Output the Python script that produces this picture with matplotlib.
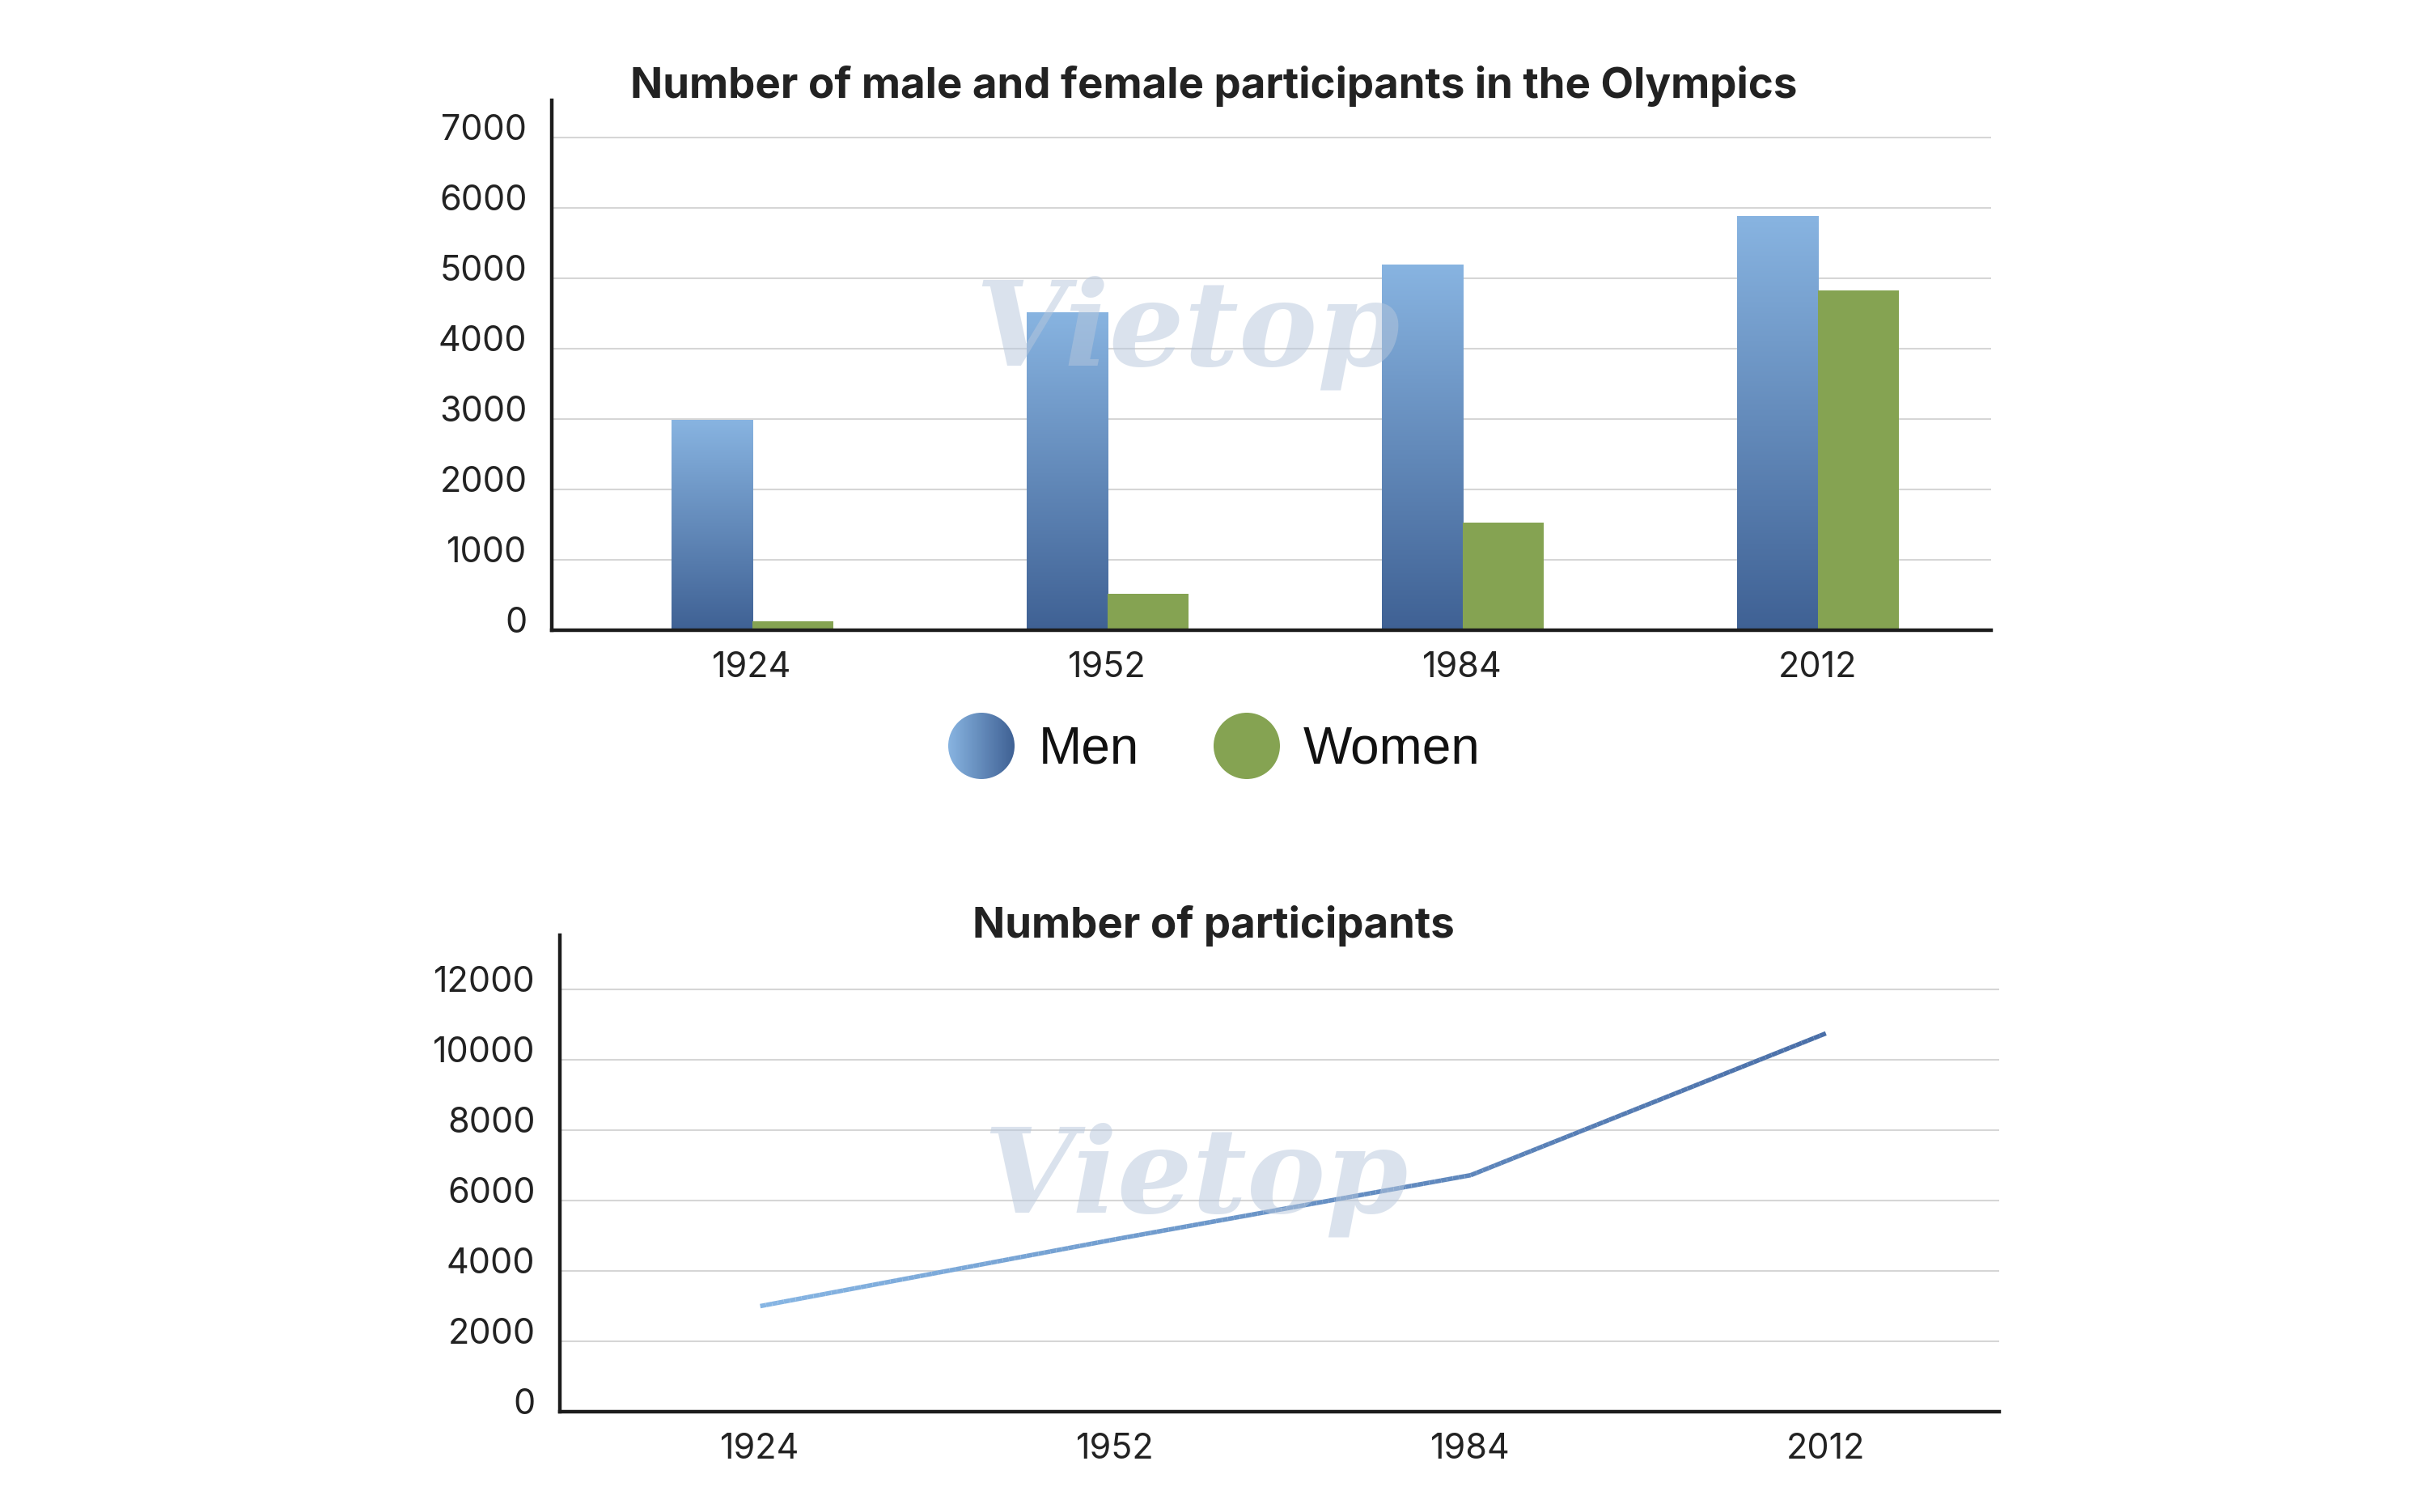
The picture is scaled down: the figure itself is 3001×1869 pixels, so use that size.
import numpy as np
import matplotlib
matplotlib.use("Agg")
import matplotlib.pyplot as plt
from matplotlib.collections import LineCollection
from matplotlib.patches import Circle
from matplotlib.colors import LinearSegmentedColormap
import matplotlib.transforms as mtrans

plt.rcParams['font.family'] = ['Inter', 'DejaVu Sans']

# ---------------- data ----------------
years = ['1924', '1952', '1984', '2012']
men = [2990, 4520, 5190, 5880]
women = [130, 520, 1530, 4820]
total = [3000, 4900, 6720, 10750]
top_yticks = [0, 1000, 2000, 3000, 4000, 5000, 6000, 7000]
bot_yticks = [0, 2000, 4000, 6000, 8000, 10000, 12000]
top_title = 'Number of male and female participants in the Olympics'
bot_title = 'Number of participants'
legend_labels = ['Men', 'Women']

# ---------------- style ----------------
W, H = 3001, 1869
DPI = 100
men_top, men_bot = '#88B4E1', '#3F6194'
women_c = '#85A352'
line_l, line_r = '#86B5E3', '#4A6FA8'
grid_c = '#d6d6d6'
text_c = '#222222'
men_cmap = LinearSegmentedColormap.from_list('men', [men_bot, men_top])
men_cmap_h = LinearSegmentedColormap.from_list('menh', [men_top, men_bot])
line_cmap = LinearSegmentedColormap.from_list('line', [line_l, line_r])

fig = plt.figure(figsize=(W / DPI, H / DPI), dpi=DPI)
fig.patch.set_facecolor('white')


def px_axes(x0, y0, x1, y1):
    return fig.add_axes([x0 / W, 1 - y1 / H, (x1 - x0) / W, (y1 - y0) / H])


XLIM = (-0.564, 3.488)


def style_axes(ax, yticks, ylim):
    ax.set_xlim(*XLIM)
    ax.set_ylim(*ylim)
    for s in ['top', 'right']:
        ax.spines[s].set_visible(False)
    for s in ['left', 'bottom']:
        ax.spines[s].set_linewidth(3.2)
        ax.spines[s].set_color('#1c1c1c')
        ax.spines[s].set_zorder(5)
    ax.set_yticks(yticks)
    ax.set_yticklabels([str(t) for t in yticks])
    ax.set_xticks(range(len(years)))
    ax.set_xticklabels(years)
    ax.tick_params(axis='both', length=0, labelsize=31, colors=text_c)
    ax.tick_params(axis='y', pad=22)
    ax.tick_params(axis='x', pad=19)
    off = mtrans.ScaledTranslation(0, 13 / DPI, fig.dpi_scale_trans)
    for lab in ax.get_yticklabels():
        lab.set_transform(lab.get_transform() + off)
    for t in yticks[1:]:
        ax.axhline(t, color=grid_c, lw=1.5, zorder=0)


# ---------------- top chart ----------------
ax1 = px_axes(682, 123.6, 2461, 779)
x = np.arange(len(years))
bw = 0.228
grad = np.linspace(0, 1, 256).reshape(-1, 1)
mbars = ax1.bar(x - bw / 2, men, width=bw, color='none', edgecolor='none', zorder=2)
for b in mbars:
    x0, w_, h_ = b.get_x(), b.get_width(), b.get_height()
    im = ax1.imshow(grad, extent=[x0, x0 + w_, 0, h_], origin='lower', aspect='auto',
                    cmap=men_cmap, zorder=2)
    im.set_clip_path(b)
ax1.bar(x + bw / 2, women, width=bw, color=women_c, zorder=2)
style_axes(ax1, top_yticks, (0, 7530))
fig.text(1500 / W, 1 - 106 / H, top_title, ha='center', va='center', fontsize=38,
         fontweight='bold', color=text_c)

# ---------------- legend ----------------
lax = px_axes(1100, 860, 1900, 990)
lax.set_xlim(1100, 1900)
lax.set_ylim(990, 860)
lax.axis('off')
c1 = Circle((1213, 922), 41, facecolor='none', edgecolor='none')
lax.add_patch(c1)
gh = np.linspace(0, 1, 256).reshape(1, -1)
im = lax.imshow(gh, extent=[1172, 1254, 963, 881], aspect='auto', cmap=men_cmap_h)
im.set_clip_path(c1)
lax.add_patch(Circle((1541, 922), 41, facecolor=women_c, edgecolor='none'))
lax.set_xlim(1100, 1900)
lax.set_ylim(990, 860)
lax.text(1284, 943, legend_labels[0], fontsize=46, family=['Liberation Sans', 'DejaVu Sans'],
         va='baseline', ha='left', color='#111111')
lax.text(1611, 943, legend_labels[1], fontsize=46, family=['Liberation Sans', 'DejaVu Sans'],
         va='baseline', ha='left', color='#111111')

# ---------------- bottom chart ----------------
ax2 = px_axes(692, 1156, 2471, 1745)
xs, ys = [], []
for i in range(len(total) - 1):
    t = np.linspace(0, 1, 60, endpoint=(i == len(total) - 2))
    xs.append(i + t)
    ys.append(total[i] + (total[i + 1] - total[i]) * t)
xs = np.concatenate(xs)
ys = np.concatenate(ys)
pts = np.column_stack([xs, ys]).reshape(-1, 1, 2)
segs = np.concatenate([pts[:-1], pts[1:]], axis=1)
lc = LineCollection(segs, cmap=line_cmap, linewidths=4.0, capstyle='butt', zorder=3)
lc.set_array(xs[:-1] / xs.max())
ax2.add_collection(lc)
style_axes(ax2, bot_yticks, (0, 13540))
fig.text(1500 / W, 1 - 1145 / H, bot_title, ha='center', va='center', fontsize=38,
         fontweight='bold', color=text_c)

# ---------------- watermark ----------------
for (wx, wy) in [(1468, 411), (1478, 1458)]:
    fig.text(wx / W, 1 - wy / H, 'Vietop', ha='center', va='center', fontsize=105,
             fontstyle='italic', fontweight='bold', family=['DejaVu Serif'],
             color='#b7c7dc', alpha=0.5, zorder=10)

fig.savefig('out.png', dpi=DPI, facecolor='white')
